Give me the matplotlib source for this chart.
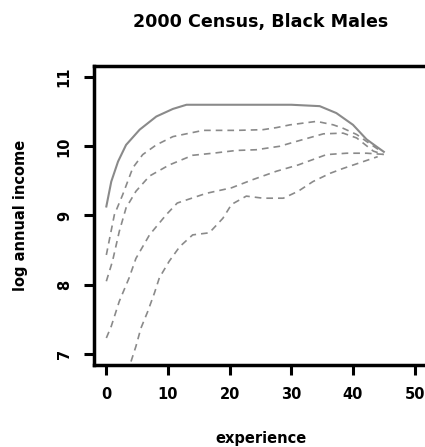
import matplotlib.pyplot as plt

# curves (experience, log annual income)
solid_exp = [0, 0.8, 1.9, 3.2, 5.4, 8.1, 10.8, 13, 20, 30, 34.6, 37.3, 40, 42.2, 43.9, 45]
solid_inc = [9.13, 9.49, 9.78, 10.02, 10.24, 10.43, 10.54, 10.60, 10.60, 10.60, 10.58,
             10.48, 10.31, 10.10, 9.99, 9.92]

dash1_exp = [0, 1.3, 2.65, 4.3, 5.9, 8.1, 10.8, 15.7, 21.1, 25.4, 27.6, 29.8, 34.1, 36.8,
             38.4, 40.6, 42.2, 44.5]
dash1_inc = [8.43, 9.01, 9.30, 9.69, 9.88, 10.02, 10.14, 10.23, 10.23, 10.24, 10.27, 10.31,
             10.36, 10.31, 10.26, 10.17, 10.07, 9.93]

dash2_exp = [0, 1.0, 2.1, 3.2, 4.8, 7.0, 10.2, 14, 17.3, 21.1, 24.3, 28.1, 30.8, 35.2, 38.4,
             40.6, 43.3, 45]
dash2_inc = [8.05, 8.34, 8.77, 9.11, 9.35, 9.57, 9.73, 9.87, 9.90, 9.94, 9.95, 10.0, 10.07,
             10.18, 10.19, 10.12, 9.93, 9.88]

dash3_exp = [0, 0.8, 2.1, 3.7, 4.8, 7, 9.7, 11.5, 16.2, 20.3, 23.8, 27.6, 31.1, 35.7, 39,
             42.2, 45.5]
dash3_inc = [7.23, 7.40, 7.76, 8.10, 8.38, 8.72, 9.01, 9.18, 9.32, 9.40, 9.52, 9.64, 9.73,
             9.88, 9.90, 9.90, 9.88]

dash4_exp = [4.0, 4.8, 5.6, 6.7, 7.8, 8.6, 10.2, 11.9, 14, 16.7, 18.9, 20.3, 22.7, 25.4,
             28.7, 31.1, 33.5, 36.3, 38.4, 41.7, 44]
dash4_inc = [6.89, 7.11, 7.37, 7.61, 7.88, 8.10, 8.34, 8.55, 8.72, 8.75, 8.96, 9.16, 9.28,
             9.25, 9.25, 9.35, 9.49, 9.61, 9.68, 9.78, 9.85]

x_ticks = [0, 10, 20, 30, 40, 50]
y_ticks = [7, 8, 9, 10, 11]

plt.rcParams["font.family"] = "DejaVu Sans"
plt.rcParams["font.weight"] = "bold"

fig = plt.figure(figsize=(4.25, 4.47), dpi=100)
ax = fig.add_axes([94 / 425, 1 - 365 / 447, 333 / 425, 299 / 447])

ax.plot(solid_exp, solid_inc, color="#8a8a8a", lw=1.5)
for xs, ys in [(dash1_exp, dash1_inc), (dash2_exp, dash2_inc),
               (dash3_exp, dash3_inc), (dash4_exp, dash4_inc)]:
    ax.plot(xs, ys, color="#8a8a8a", lw=1.2, linestyle=(0, (4, 3)))

ax.set_xlim(-2, 52)
ax.set_ylim(6.84, 11.16)
ax.set_xticks(x_ticks)
ax.set_yticks(y_ticks)
ax.tick_params(length=7, width=2.2, labelsize=10.5, pad=9)
ax.tick_params(axis="y", labelrotation=90)
for lab in ax.get_yticklabels():
    lab.set_va("center")

for s in ["left", "top", "bottom"]:
    ax.spines[s].set_linewidth(2.5)
ax.spines["right"].set_visible(False)

fig.text(0.614, 1 - 22 / 447, "2000 Census, Black Males", ha="center", va="center",
         fontsize=12.6, fontweight="bold")
fig.text(0.614, 1 - 438 / 447, "experience", ha="center", va="center",
         fontsize=10.5, fontweight="bold")
fig.text(21 / 425, 1 - 215 / 447, "log annual income", ha="center", va="center",
         rotation=90, fontsize=10.5, fontweight="bold")

fig.savefig("out.png", dpi=100)
